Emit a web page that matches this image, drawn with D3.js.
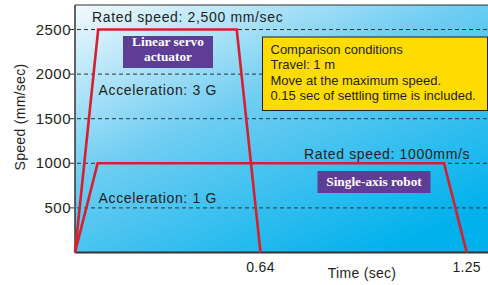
<!DOCTYPE html>
<html>
<head>
<meta charset="utf-8">
<script src="https://cdn.jsdelivr.net/npm/d3@7"></script>
<style>
  body { margin: 0; background: #fff; }
  text { font-family: "Liberation Sans", Arial, sans-serif; fill: #231f20; }
</style>
</head>
<body>
<svg id="canvas" width="488" height="285"></svg>
<script>
// time (sec) / speed (mm/sec) corner points
const servoTime = [0, 0.08, 0.558, 0.64]
const servoSpeed = [0, 2500, 2500, 0]
const robotTime = [0, 0.078, 1.183, 1.25]
const robotSpeed = [0, 1000, 1000, 0]

const yTicks = [500, 1000, 1500, 2000, 2500]
const xTicks = [0.64, 1.25]

const conditions = [
  'Comparison conditions',
  'Travel: 1 m',
  'Move at the maximum speed.',
  '0.15 sec of settling time is included.'
]

let svg = d3.select('#canvas')

let plotLeft = 75, plotRight = 490, plotTop = 5, plotBottom = 252.5

// the time axis is schematic, so it is piecewise
let x = d3.scaleLinear().domain([0, 0.64, 1.25]).range([plotLeft, 260.5, 466.7])
let y = d3.scaleLinear().domain([0, 2775]).range([plotBottom, plotTop])

let defs = svg.append('defs')
let grad = defs.append('linearGradient')
  .attr('id', 'bg')
  .attr('x1', '0%').attr('y1', '0%')
  .attr('x2', '75%').attr('y2', '100%')
grad.append('stop').attr('offset', '0%').attr('stop-color', '#f2fafe')
grad.append('stop').attr('offset', '45%').attr('stop-color', '#6fcdf2')
grad.append('stop').attr('offset', '100%').attr('stop-color', '#00b1ec')

svg.append('rect')
  .attr('x', plotLeft).attr('y', plotTop)
  .attr('width', plotRight - plotLeft).attr('height', plotBottom - plotTop)
  .attr('fill', 'url(#bg)')

// dashed grid
svg.append('g')
  .selectAll('line')
  .data(yTicks)
  .enter().append('line')
  .attr('x1', plotLeft - 5).attr('x2', plotRight)
  .attr('y1', d => y(d)).attr('y2', d => y(d))
  .attr('stroke', '#333')
  .attr('stroke-width', 1)
  .attr('stroke-dasharray', '4,3')

// frame
svg.append('line')
  .attr('x1', plotLeft).attr('x2', plotRight).attr('y1', plotTop).attr('y2', plotTop)
  .attr('stroke', '#333').attr('stroke-width', 1.2)
svg.append('line')
  .attr('x1', plotLeft).attr('x2', plotLeft).attr('y1', plotTop).attr('y2', plotBottom)
  .attr('stroke', '#333').attr('stroke-width', 1.5)
svg.append('line')
  .attr('x1', plotLeft).attr('x2', plotRight).attr('y1', plotBottom).attr('y2', plotBottom)
  .attr('stroke', '#333').attr('stroke-width', 2)

// y tick labels
svg.append('g')
  .selectAll('text')
  .data(yTicks)
  .enter().append('text')
  .attr('x', plotLeft - 4)
  .attr('y', d => y(d) + 5)
  .attr('text-anchor', 'end')
  .attr('font-size', 15)
  .attr('letter-spacing', 0.5)
  .text(d => d)

// x tick labels
svg.append('g')
  .selectAll('text')
  .data(xTicks)
  .enter().append('text')
  .attr('x', d => x(d))
  .attr('y', 271.5)
  .attr('text-anchor', 'middle')
  .attr('font-size', 14)
  .attr('letter-spacing', 0.3)
  .text(d => d)

svg.append('text')
  .attr('x', 362).attr('y', 278)
  .attr('text-anchor', 'middle')
  .attr('font-size', 14)
  .attr('letter-spacing', 0.3)
  .text('Time (sec)')

svg.append('text')
  .attr('transform', 'translate(25,117) rotate(-90)')
  .attr('text-anchor', 'middle')
  .attr('font-size', 14)
  .attr('letter-spacing', 0.3)
  .text('Speed (mm/sec)')

// speed profiles
let line = d3.line().x(d => x(d[0])).y(d => y(d[1]))

svg.append('path')
  .datum(robotTime.map((t, i) => [t, robotSpeed[i]]))
  .attr('d', line)
  .attr('fill', 'none')
  .attr('stroke', '#d7202f')
  .attr('stroke-width', 2.6)
  .attr('stroke-linejoin', 'miter')

svg.append('path')
  .datum(servoTime.map((t, i) => [t, servoSpeed[i]]))
  .attr('d', line)
  .attr('fill', 'none')
  .attr('stroke', '#d7202f')
  .attr('stroke-width', 2.6)
  .attr('stroke-linejoin', 'miter')

// annotations
let note = (tx, ty, str) => svg.append('text')
  .attr('x', tx).attr('y', ty)
  .attr('font-size', 14)
  .attr('letter-spacing', 0.65)
  .text(str)

note(92, 22, 'Rated speed: 2,500 mm/sec')
note(98.5, 95, 'Acceleration: 3 G')
note(98.5, 202.5, 'Acceleration: 1 G')
note(304, 158.5, 'Rated speed: 1000mm/s')

let purpleBox = (bx, by, bw, bh, lines, baseY) => {
  svg.append('rect')
    .attr('x', bx).attr('y', by).attr('width', bw).attr('height', bh)
    .attr('fill', '#5d3d96')
  svg.append('text')
    .attr('x', bx + bw / 2)
    .attr('text-anchor', 'middle')
    .style('font-family', '"Liberation Serif", "Times New Roman", serif')
    .style('font-weight', 'bold')
    .style('fill', '#fff')
    .attr('font-size', 13.3)
    .selectAll('tspan')
    .data(lines)
    .enter().append('tspan')
    .attr('x', bx + bw / 2)
    .attr('y', (d, i) => baseY + i * 14.5)
    .text(d => d)
}

purpleBox(123, 36, 90, 32, ['Linear servo', 'actuator'], 46)
purpleBox(317.5, 171, 113, 22, ['Single-axis robot'], 186)

// conditions box
svg.append('rect')
  .attr('x', 262.5).attr('y', 37)
  .attr('width', 225).attr('height', 73.5)
  .attr('fill', '#ffdc00')
  .attr('stroke', '#231f20')
  .attr('stroke-width', 1)

svg.append('text')
  .attr('font-size', 13)
  .selectAll('tspan')
  .data(conditions)
  .enter().append('tspan')
  .attr('x', 270.5)
  .attr('y', (d, i) => 53.5 + i * 15.6)
  .text(d => d)
</script>
</body>
</html>
